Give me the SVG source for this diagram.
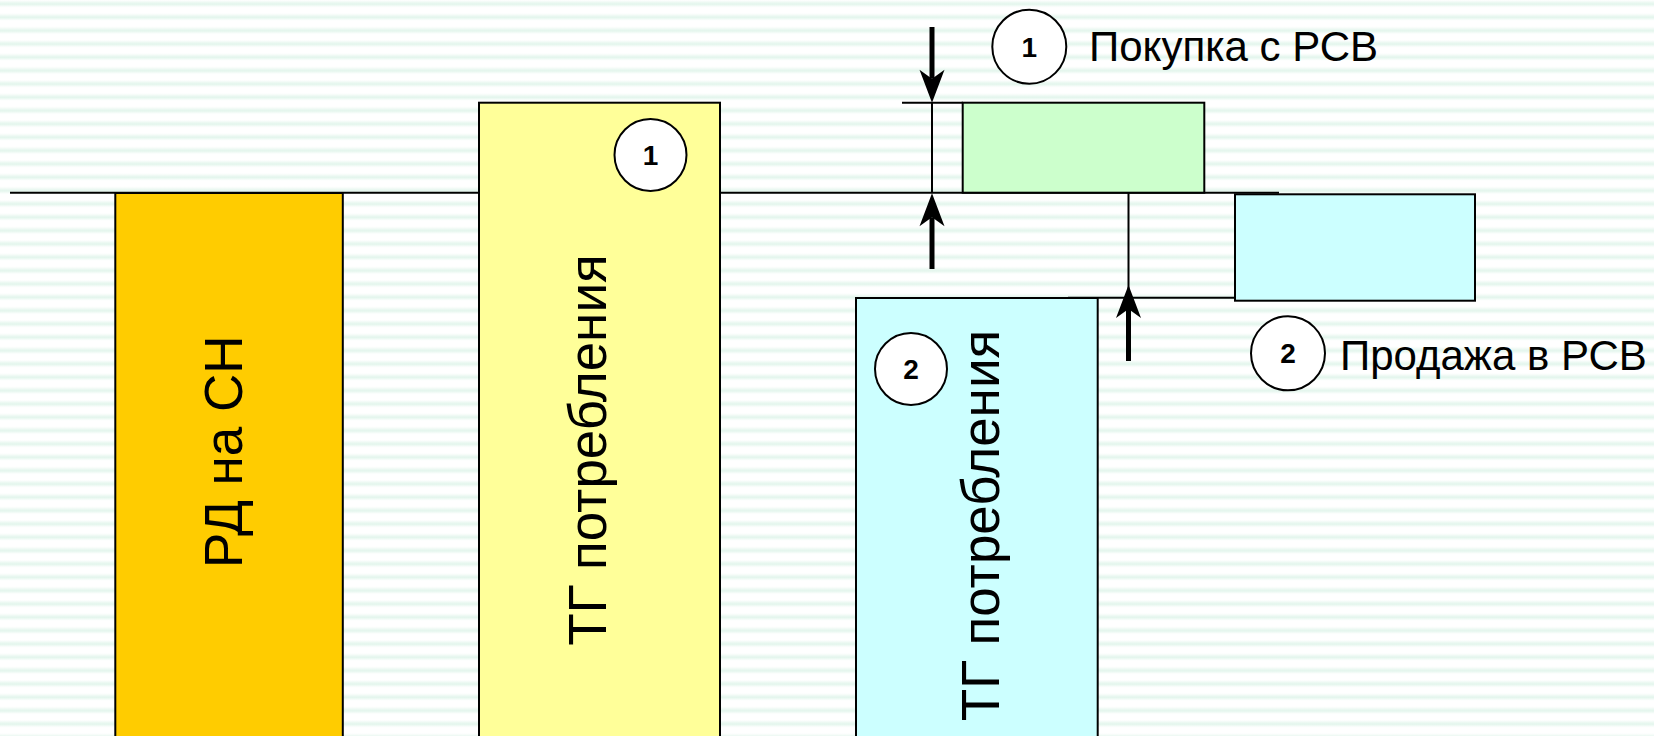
<svg xmlns="http://www.w3.org/2000/svg" width="1654" height="736" viewBox="0 0 1654 736">
<style>
.box{stroke:#000;stroke-width:2}
.ln{stroke:#000;stroke-width:2;fill:none}
.arr{stroke:#000;stroke-width:5;fill:none;marker-end:url(#ah)}
.circ{fill:#fff;stroke:#000;stroke-width:2}
.num{font-family:"Liberation Sans",Arial,sans-serif;font-weight:bold;font-size:28px;text-anchor:middle;fill:#000}
.big{font-family:"Liberation Sans",Arial,sans-serif;font-size:53px;text-anchor:middle;fill:#000}
.lbl{font-family:"Liberation Sans",Arial,sans-serif;font-size:42px;fill:#000}
</style>
<defs>
<linearGradient id="sg" x1="0" y1="0" x2="0" y2="1">
<stop offset="0" stop-color="#ffffff"/>
<stop offset="0.3" stop-color="#e2f5ec"/>
<stop offset="0.55" stop-color="#ffffff"/>
<stop offset="1" stop-color="#ffffff"/>
</linearGradient>
<pattern id="bg" patternUnits="userSpaceOnUse" width="20" height="13.333">
<rect width="20" height="13.333" fill="url(#sg)"/>
</pattern>
<marker id="ah" markerUnits="userSpaceOnUse" viewBox="-34 -13 35 26" markerWidth="35" markerHeight="26" refX="-24" refY="0" orient="auto">
<path d="M0,0 L-33,-12.5 L-24,0 L-33,12.5 Z" fill="#000"/>
</marker>
</defs>
<rect width="1654" height="736" fill="url(#bg)"/>

<g id="connectors">
<line class="ln" x1="10" y1="192.7" x2="1279" y2="192.7"/>
<line class="ln" x1="902" y1="102.7" x2="963" y2="102.7"/>
<line class="ln" x1="1068" y1="297.7" x2="1235" y2="297.7"/>
<line class="ln" x1="932" y1="102.7" x2="932" y2="193"/>
<line class="ln" x1="1128.5" y1="192.7" x2="1128.5" y2="297"/>
<line class="arr" x1="932" y1="27" x2="932" y2="78.7"/>
<line class="arr" x1="1129" y1="119" x2="1129" y2="168.7"/>
<line class="arr" x1="932" y1="269" x2="932" y2="217.3"/>
<line class="arr" x1="1128.5" y1="361" x2="1128.5" y2="309"/>
</g>

<g id="rd">
<rect class="box" x="115.3" y="193" width="227.5" height="560" fill="#ffcc00"/>
<text class="big" transform="translate(242,451.7) rotate(-90)">РД на СН</text>
</g>

<g id="tg1">
<rect class="box" x="479" y="102.7" width="241" height="650" fill="#ffff99"/>
<text class="big" transform="translate(605.7,450) rotate(-90)">ТГ потребления</text>
<circle class="circ" cx="650.5" cy="155" r="36"/>
<text class="num" x="650.5" y="165">1</text>
</g>

<g id="buy">
<rect class="box" x="962.7" y="102.7" width="241.6" height="90" fill="#ccffcc"/>
</g>

<g id="sell">
<rect class="box" x="1235" y="194.3" width="240" height="106.4" fill="#ccffff"/>
</g>

<g id="tg2">
<rect class="box" x="856" y="298" width="241.7" height="460" fill="#ccffff"/>
<text class="big" transform="translate(999.3,525.5) rotate(-90)">ТГ потребления</text>
<circle class="circ" cx="911" cy="369" r="36"/>
<text class="num" x="911" y="379">2</text>
</g>

<g id="legend1">
<circle class="circ" cx="1029.3" cy="46.7" r="37"/>
<text class="num" x="1029.3" y="56.7">1</text>
<text class="lbl" x="1089" y="60.7">Покупка с РСВ</text>
</g>

<g id="legend2">
<circle class="circ" cx="1288" cy="353.3" r="37"/>
<text class="num" x="1288" y="363.3">2</text>
<text class="lbl" x="1340" y="370">Продажа в РСВ</text>
</g>
</svg>
